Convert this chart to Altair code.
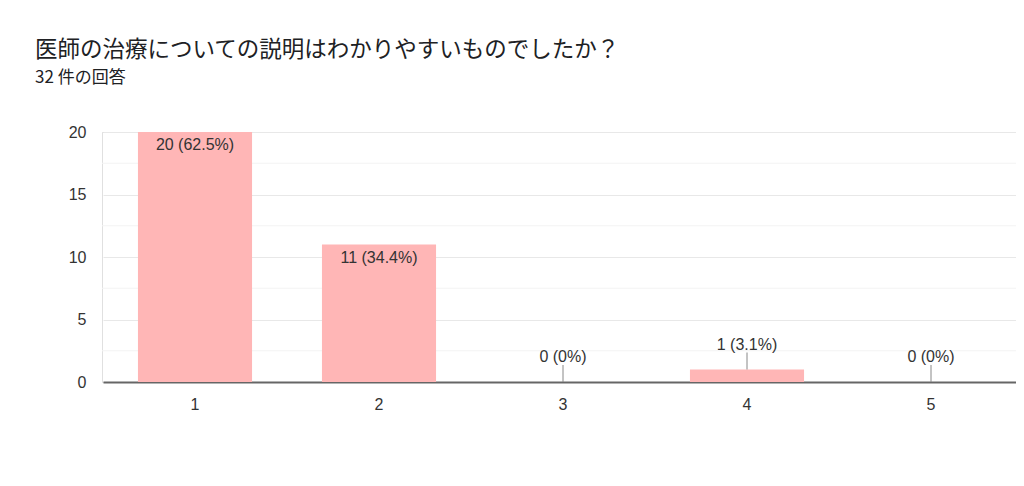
import altair as alt
import pandas as pd

categories = ["1", "2", "3", "4", "5"]
counts = [20, 11, 0, 1, 0]
percents = ["62.5%", "34.4%", "0%", "3.1%", "0%"]
minor_ticks = [2.5, 7.5, 12.5, 17.5]

df = pd.DataFrame({"cat": categories, "count": counts, "pct": percents})
df["label"] = [f"{c} ({p})" for c, p in zip(counts, percents)]
minor = pd.DataFrame({"v": minor_ticks})

FONT = "Liberation Sans"
JP = "Noto Sans CJK JP"
FS = 16

x = alt.X("cat:N", sort=categories, title=None,
          scale=alt.Scale(paddingInner=0.38, paddingOuter=0.19, range=[1, 921]),
          axis=alt.Axis(labelAngle=0, labelFontSize=FS, labelColor="#333333",
                        labelFont=FONT, ticks=False, labelPadding=14,
                        domainColor="#666666", domainWidth=2, grid=False))
yscale = alt.Scale(domain=[0, 20], nice=False)

base = alt.Chart(df)

minor_grid = alt.Chart(minor).mark_rule(color="#f3f3f3", strokeWidth=1).encode(
    y=alt.Y("v:Q", scale=yscale)
)

bars = base.mark_bar(color="#ffb6b6").encode(
    x=x,
    y=alt.Y("count:Q", scale=yscale, title=None,
            axis=alt.Axis(values=[0, 5, 10, 15, 20], labelFontSize=FS,
                          labelColor="#333333", labelFont=FONT, ticks=False,
                          labelPadding=16, gridColor="#e8e8e8",
                          domainColor="#e0e0e0")),
)

inside = base.transform_filter("datum.count >= 5").mark_text(
    baseline="middle", dy=13, fontSize=FS, font=FONT, color="#333333"
).encode(x=alt.X("cat:N", sort=categories), y=alt.Y("count:Q", scale=yscale), text="label:N")

outside_rule = base.transform_filter("datum.count < 5").mark_rule(
    color="#888888", strokeWidth=1, y2Offset=-17
).encode(x=alt.X("cat:N", sort=categories), y=alt.Y("count:Q", scale=yscale),
         y2="count:Q")

outside_text = base.transform_filter("datum.count < 5").mark_text(
    baseline="middle", dy=-25, fontSize=FS, font=FONT, color="#333333"
).encode(x=alt.X("cat:N", sort=categories), y=alt.Y("count:Q", scale=yscale), text="label:N")

chart = alt.layer(minor_grid, bars, inside, outside_rule, outside_text).properties(
    width=914, height=250,
    autosize=alt.AutoSizeParams(type="none"),
    padding={"left": 94, "top": 124, "right": 0, "bottom": 90},
    title=alt.TitleParams(
        text="医師の治療についての説明はわかりやすいものでしたか？",
        subtitle="32 件の回答",
        anchor="start", frame="group", dx=-67, offset=38,
        font=JP, fontSize=22.5, fontWeight="normal", color="#202124",
        subtitleFont=JP, subtitleFontSize=17, subtitleColor="#202124",
        subtitlePadding=9,
    ),
).configure_view(stroke=None).configure(background="white")

chart.save("out.html", embed_options={"renderer": "svg", "actions": False})
